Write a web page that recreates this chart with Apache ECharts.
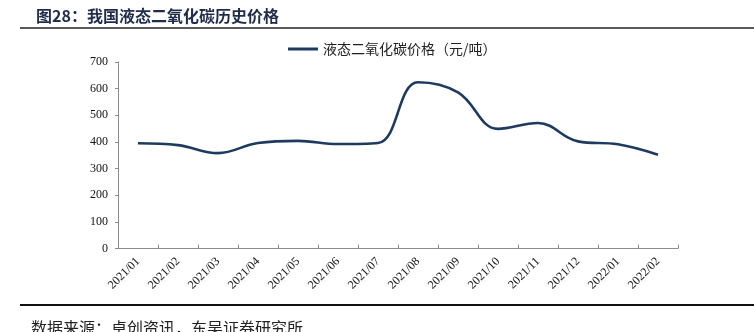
<!DOCTYPE html>
<html>
<head>
<meta charset="utf-8">
<script src="https://cdn.jsdelivr.net/npm/echarts@6/dist/echarts.min.js"></script>
<style>
  html, body { margin: 0; padding: 0; background: #fff; }
  #chart { width: 754px; height: 332px; }
</style>
</head>
<body>
<div id="chart"></div>
<script>
// Monthly price of liquid CO2 in China (yuan / ton)
const months = ['2021/01', '2021/02', '2021/03', '2021/04', '2021/05', '2021/06', '2021/07',
                '2021/08', '2021/09', '2021/10', '2021/11', '2021/12', '2022/01', '2022/02'];
const prices = [395, 388, 358, 396, 404, 392, 396, 624, 586, 449, 471, 402, 391, 352];
const seriesName = '液态二氧化碳价格（元/吨）';
const yTicks = { min: 0, max: 700, interval: 100 };

const chart = echarts.init(document.getElementById('chart'), null, { renderer: 'canvas' });

const serif = '"Liberation Serif", "Times New Roman", serif';
const cjk = '"Noto Sans CJK SC", sans-serif';
const navy = '#1f3a60';

chart.setOption({
  animation: false,
  backgroundColor: '#fff',
  title: {
    text: '图28：我国液态二氧化碳历史价格',
    left: 31, top: 3,
    textStyle: { fontFamily: cjk, fontSize: 16, fontWeight: 'bold', color: '#1f2d4a' }
  },
  graphic: [
    { type: 'line', shape: { x1: 20, y1: 28, x2: 754, y2: 28 }, style: { stroke: '#222', lineWidth: 1.5 } },
    { type: 'line', shape: { x1: 20, y1: 305, x2: 754, y2: 305 }, style: { stroke: '#111', lineWidth: 2 } },
    { type: 'text', left: 31, top: 320,
      style: { text: '数据来源：卓创资讯，东吴证券研究所', font: '16px ' + cjk, fill: '#222' } }
  ],
  legend: {
    top: 37, left: 283,
    itemWidth: 30, itemHeight: 3, itemGap: 6,
    icon: 'rect',
    textStyle: { fontFamily: cjk, fontSize: 14, color: '#222' },
    data: [seriesName]
  },
  grid: { left: 118, right: 76, top: 62, bottom: 83.5, containLabel: false },
  xAxis: {
    type: 'category',
    data: months,
    boundaryGap: true,
    axisLine: { lineStyle: { color: '#8c8c8c', width: 1 } },
    axisTick: { show: true, inside: true, length: 4, lineStyle: { color: '#8c8c8c' } },
    axisLabel: { rotate: 45, fontFamily: serif, fontSize: 12, color: '#111', margin: 11, interval: 0 }
  },
  yAxis: {
    type: 'value',
    min: yTicks.min, max: yTicks.max, interval: yTicks.interval,
    axisLine: { show: true, lineStyle: { color: '#8c8c8c', width: 1 } },
    axisTick: { show: true, length: 3, lineStyle: { color: '#8c8c8c' } },
    splitLine: { show: false },
    axisLabel: { fontFamily: serif, fontSize: 12, color: '#111', margin: 10 }
  },
  series: [{
    name: seriesName,
    type: 'line',
    data: prices,
    smooth: 0.4,
    symbol: 'none',
    lineStyle: { color: navy, width: 2.6 },
    itemStyle: { color: navy }
  }]
});
</script>
</body>
</html>
